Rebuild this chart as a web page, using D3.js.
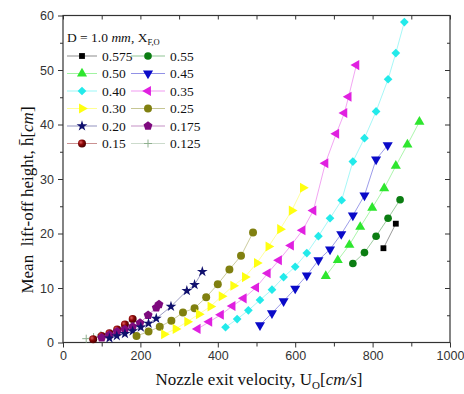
<!DOCTYPE html>
<html>
<head>
<meta charset="utf-8">
<script src="https://cdn.jsdelivr.net/npm/d3@7"></script>
<style>
  html, body { margin: 0; padding: 0; background: #fff; }
  svg { display: block; }
</style>
</head>
<body>
<svg id="chart" width="464" height="394"></svg>
<script>
// Fuel mole fraction at the nozzle exit (legend entries)
const fractions = ["0.575", "0.55", "0.50", "0.45", "0.40", "0.35", "0.30", "0.25", "0.20", "0.175", "0.15", "0.125"];

// Nozzle exit velocity U_O [cm/s] and mean lift-off height [cm] per fraction
const u575 = [828, 860];
const h575 = [17.3, 21.8];
const u550 = [749, 779, 809, 840, 871];
const h550 = [14.5, 16.5, 19.5, 22.8, 26.2];
const u500 = [679, 710, 740, 768, 799, 830, 860, 890, 921];
const h500 = [12.2, 15.1, 17.9, 21.2, 24.7, 28.3, 32.4, 36.3, 40.5];
const u450 = [509, 540, 570, 600, 630, 660, 690, 719, 749, 779, 809, 839];
const h450 = [3.2, 5.4, 7.6, 9.9, 12.3, 15.1, 17.1, 19.9, 23.3, 27.0, 33.6, 36.2];
const u400 = [420, 450, 479, 509, 540, 570, 600, 630, 660, 690, 720, 749, 779, 809, 840, 860, 882];
const h400 = [2.8, 4.3, 5.9, 7.8, 9.7, 12.0, 13.9, 16.4, 19.5, 22.8, 26.1, 33.2, 37.5, 42.4, 48.3, 53.1, 58.8];
const u350 = [348, 378, 408, 438, 467, 499, 529, 558, 589, 619, 647, 678, 706, 727, 738, 758];
const h350 = [2.5, 3.8, 5.1, 6.7, 8.1, 10.1, 12.7, 15.1, 17.8, 20.6, 24.2, 32.9, 38.3, 42.1, 45.1, 50.9];
const u300 = [261, 291, 321, 351, 381, 410, 440, 470, 501, 531, 561, 591, 620];
const h300 = [1.5, 2.5, 3.8, 5.2, 6.6, 8.5, 10.4, 12.0, 14.6, 17.6, 20.8, 24.2, 28.4];
const u250 = [190, 221, 250, 280, 310, 340, 370, 400, 430, 460, 491];
const h250 = [1.2, 2.0, 2.9, 4.0, 5.5, 6.3, 8.3, 10.7, 13.4, 15.9, 20.2];
const u200 = [120, 139, 160, 180, 201, 221, 241, 279, 320, 340, 360];
const h200 = [0.8, 1.2, 1.6, 2.1, 2.8, 3.5, 4.4, 6.6, 9.5, 10.6, 13.0];
const u175 = [100, 120, 140, 160, 180, 199, 220, 241, 248];
const h175 = [0.9, 1.4, 2.0, 2.4, 2.9, 3.6, 5.0, 6.4, 7.0];
const u150 = [78, 100, 120, 140, 160, 180];
const h150 = [0.6, 1.2, 1.7, 2.4, 3.3, 4.3];
const u125 = [60, 79, 98];
const h125 = [0.7, 1.0, 1.4];

const uSets = [u575, u550, u500, u450, u400, u350, u300, u250, u200, u175, u150, u125];
const hSets = [h575, h550, h500, h450, h400, h350, h300, h250, h200, h175, h150, h125];

// Axis ticks
const xMajor = [0, 200, 400, 600, 800, 1000];
const xMinor = [100, 300, 500, 700, 900];
const yMajor = [0, 10, 20, 30, 40, 50, 60];
const yMinor = [5, 15, 25, 35, 45, 55];

// Marker colours and shapes per fraction
const colors = ["#000000", "#0b7d12", "#2ee62e", "#0a0ac8", "#22eaea", "#e020e0",
                "#ffff10", "#808010", "#10106e", "#7e0a7e", "#8a0a0a", "#8fb08f"];

const pentagon = {
  draw(ctx, size) {
    const r = Math.sqrt(size / 2.38);
    for (let i = 0; i < 5; i++) {
      const a = -Math.PI / 2 + i * 2 * Math.PI / 5;
      const px = r * Math.cos(a), py = r * Math.sin(a);
      if (i === 0) ctx.moveTo(px, py); else ctx.lineTo(px, py);
    }
    ctx.closePath();
  }
};
const plus = {
  draw(ctx, size) {
    const r = Math.sqrt(size) / 2;
    ctx.moveTo(-r, 0); ctx.lineTo(r, 0);
    ctx.moveTo(0, -r); ctx.lineTo(0, r);
  }
};

// shape, area, rotation
const markers = [
  [d3.symbolSquare, 34, 0],
  [d3.symbolCircle, 46, 0],
  [d3.symbolTriangle, 44, 0],
  [d3.symbolTriangle, 44, 180],
  [d3.symbolSquare, 38, 45],
  [d3.symbolTriangle, 44, -90],
  [d3.symbolTriangle, 44, 90],
  [d3.symbolCircle, 50, 0],
  [d3.symbolStar, 36, 0],
  [pentagon, 52, 0],
  [d3.symbolCircle, 50, 0],
  [plus, 64, 0]
];

const W = 464, H = 394;
const margin = { top: 15.5, right: 14, bottom: 51.5, left: 63 };
const iw = W - margin.left - margin.right;
const ih = H - margin.top - margin.bottom;

const svg = d3.select("#chart");
const defs = svg.append("defs");
const grad = defs.append("radialGradient").attr("id", "ball")
  .attr("cx", "35%").attr("cy", "35%").attr("r", "65%");
grad.append("stop").attr("offset", "0%").attr("stop-color", "#e06060");
grad.append("stop").attr("offset", "45%").attr("stop-color", "#900808");
grad.append("stop").attr("offset", "100%").attr("stop-color", "#4a0000");

const g = svg.append("g").attr("transform", `translate(${margin.left},${margin.top})`);

const x = d3.scaleLinear().domain([0, 1000]).range([0, iw]);
const y = d3.scaleLinear().domain([0, 60]).range([ih, 0]);

const axisColor = "#333";
const tickFont = "'Liberation Sans', Arial, sans-serif";

function styleAxis(sel) {
  sel.select(".domain").remove();
  sel.selectAll(".tick line").attr("stroke", axisColor).attr("stroke-width", 1);
  sel.selectAll(".tick text").attr("fill", "#333").style("font-family", tickFont).style("font-size", "12.5px");
}

// bottom axis, labelled ticks pointing outward
g.append("g").attr("transform", `translate(0,${ih})`)
  .call(d3.axisBottom(x).tickValues(xMajor).tickSize(5).tickPadding(4).tickFormat(d3.format("d")))
  .call(styleAxis);
g.append("g").attr("transform", `translate(0,${ih})`)
  .call(d3.axisBottom(x).tickValues(xMinor).tickSize(4).tickFormat(""))
  .call(styleAxis);
// left axis
g.append("g")
  .call(d3.axisLeft(y).tickValues(yMajor).tickSize(5).tickPadding(4).tickFormat(d3.format("d")))
  .call(styleAxis);
g.append("g")
  .call(d3.axisLeft(y).tickValues(yMinor).tickSize(3).tickFormat(""))
  .call(styleAxis);
// top and right mirror ticks, pointing inward
g.append("g")
  .call(d3.axisTop(x).tickValues(xMajor.concat(xMinor)).tickSize(-4).tickFormat(""))
  .call(styleAxis);
g.append("g").attr("transform", `translate(${iw},0)`)
  .call(d3.axisRight(y).tickValues(yMajor.slice(1, -1)).tickSize(-5).tickFormat(""))
  .call(styleAxis);
g.append("g").attr("transform", `translate(${iw},0)`)
  .call(d3.axisRight(y).tickValues(yMinor).tickSize(-3).tickFormat(""))
  .call(styleAxis);

// plot frame
g.append("rect").attr("x", 0).attr("y", 0).attr("width", iw).attr("height", ih)
  .attr("fill", "none").attr("stroke", axisColor).attr("stroke-width", 1.2);

const symbolPath = (i) => d3.symbol().type(markers[i][0]).size(markers[i][1])();
const fillOf = (i) => (i === 10 ? "url(#ball)" : (i === 11 ? "none" : colors[i]));
const strokeOf = (i) => (i === 11 ? colors[i] : "none");

const line = d3.line().x(d => x(d[0])).y(d => y(d[1]));

// connecting lines first, then markers, so markers sit on top
fractions.forEach((f, i) => {
  const pts = uSets[i].map((u, k) => [u, hSets[i][k]]);
  g.append("path").datum(pts)
    .attr("d", line)
    .attr("fill", "none")
    .attr("stroke", colors[i])
    .attr("stroke-opacity", 0.45)
    .attr("stroke-width", 0.9);
});
fractions.slice().reverse().forEach((f, ri) => {
  const i = fractions.length - 1 - ri;
  const pts = uSets[i].map((u, k) => [u, hSets[i][k]]);
  g.append("g").selectAll("path").data(pts).join("path")
    .attr("d", symbolPath(i))
    .attr("transform", d => `translate(${x(d[0])},${y(d[1])}) rotate(${markers[i][2]})`)
    .attr("fill", fillOf(i))
    .attr("stroke", strokeOf(i))
    .attr("stroke-width", i === 11 ? 1 : 0);
});

// legend
const serif = "'Liberation Serif', 'Times New Roman', serif";
const leg = svg.append("g");
const head = leg.append("text").attr("x", 67).attr("y", 41.5)
  .style("font-family", serif).style("font-size", "13.5px").attr("fill", "#111");
head.append("tspan").text("D = 1.0 ");
head.append("tspan").style("font-style", "italic").text("mm");
head.append("tspan").text(", X");
head.append("tspan").attr("dy", 3.5).style("font-size", "8.5px").text("F,O");

const rowY0 = 56, rowDy = 17.5;
fractions.forEach((f, i) => {
  const col = i % 2, row = Math.floor(i / 2);
  const cy = rowY0 + row * rowDy;
  const lx0 = col === 0 ? 67 : 131;
  const lx1 = col === 0 ? 97 : 165;
  const mx = (lx0 + lx1) / 2;
  leg.append("line").attr("x1", lx0).attr("x2", lx1).attr("y1", cy).attr("y2", cy)
    .attr("stroke", colors[i]).attr("stroke-opacity", 0.45).attr("stroke-width", 1);
  leg.append("path").attr("d", symbolPath(i))
    .attr("transform", `translate(${mx},${cy}) rotate(${markers[i][2]})`)
    .attr("fill", fillOf(i)).attr("stroke", strokeOf(i)).attr("stroke-width", i === 11 ? 1 : 0);
  leg.append("text").attr("x", lx1 + 5).attr("y", cy + 4.5)
    .style("font-family", serif).style("font-size", "13.5px").attr("fill", "#111")
    .text(f);
});

// axis titles
const xt = svg.append("text").attr("x", 259).attr("y", 385).attr("text-anchor", "middle")
  .style("font-family", serif).style("font-size", "17px").attr("fill", "#111");
xt.append("tspan").text("Nozzle exit velocity, U");
xt.append("tspan").attr("dy", 4).style("font-size", "11px").text("O");
xt.append("tspan").attr("dy", -4).text("[");
xt.append("tspan").style("font-style", "italic").text("cm/s");
xt.append("tspan").text("]");

const yt = svg.append("text").attr("transform", "translate(33,200) rotate(-90)")
  .attr("text-anchor", "middle")
  .style("font-family", serif).style("font-size", "17px").attr("fill", "#111");
yt.append("tspan").text("Mean\u00a0 lift-off height, h\u0304[");
yt.append("tspan").style("font-style", "italic").text("cm");
yt.append("tspan").text("]");
</script>
</body>
</html>
